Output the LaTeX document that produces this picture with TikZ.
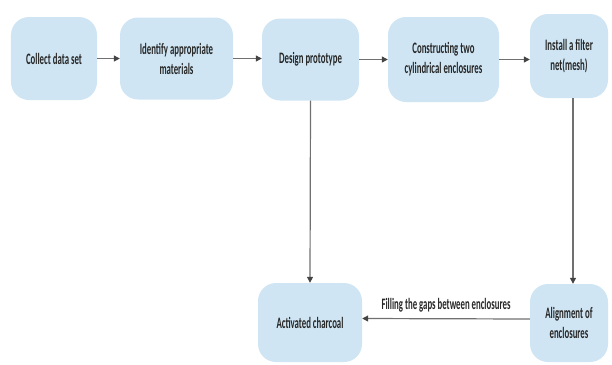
\documentclass[tikz,border=0pt]{standalone}
\usepackage{fontspec}
\setmainfont{Carlito}[FakeStretch=0.55]
\usetikzlibrary{arrows.meta}
\definecolor{boxblue}{HTML}{CFE5F3}
\definecolor{txtgray}{HTML}{262626}
\definecolor{linegray}{HTML}{707070}
\definecolor{tipgray}{HTML}{444444}
\begin{document}
\begin{tikzpicture}[x=1bp,y=-1bp,
  box/.style={fill=boxblue, rounded corners=18bp, text=txtgray, align=center,
    font=\fontsize{16}{20}\selectfont\bfseries, inner sep=0pt},
  arr/.style={draw=linegray, line width=1.2bp,
    -{Triangle[length=6bp,width=6bp,color=tipgray]}},
  lbl/.style={text=txtgray, font=\fontsize{16}{20}\selectfont\bfseries}]
\useasboundingbox (0,0) rectangle (612,364);
\node[box, minimum width=86bp, minimum height=83bp] (b1) at (54,58.5) {Collect data set};
\node[box, minimum width=113bp, minimum height=82bp] (b2) at (176.5,58.5) {Identify appropriate\\materials};
\node[box, minimum width=97bp, minimum height=82bp] (b3) at (310.5,59.5) {Design prototype};
\node[box, minimum width=111bp, minimum height=85bp] (b4) at (443.5,59.5) {Constructing two\\cylindrical enclosures};
\node[box, minimum width=78bp, minimum height=84bp] (b5) at (569,56) {Install a filter\\net(mesh)};
\node[box, minimum width=104bp, minimum height=79bp] (b6) at (310,322.5) {Activated charcoal};
\node[box, minimum width=78bp, minimum height=78bp] (b7) at (569,323) {Alignment of\\enclosures};
\draw[arr] (b1.east) -- (b2.west |- b1.east);
\draw[arr] (b2.east) -- (b3.west |- b2.east);
\draw[arr] (b3.east) -- (b4.west |- b3.east);
\draw[arr] (b4.east) -- (b5.west |- b4.east);
\draw[arr] (b3.south) -- (b6.north);
\draw[arr] ([xshift=4bp]b5.south) -- ([xshift=4bp]b7.north);
\draw[arr] ([yshift=4bp]b7.west) -- node[lbl, above=3bp] {Filling the gaps between enclosures} ([yshift=4bp]b6.east);
\end{tikzpicture}
\end{document}
